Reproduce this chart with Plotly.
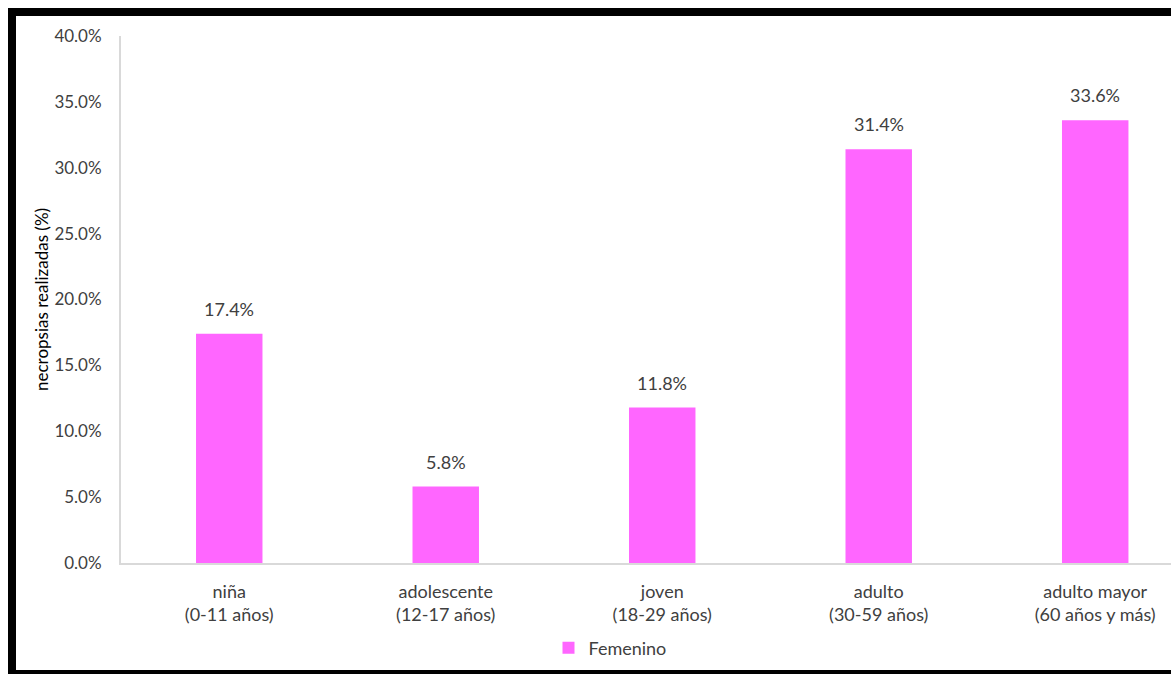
import plotly.graph_objects as go

categories = ["niña<br>(0-11 años)", "adolescente<br>(12-17 años)", "joven<br>(18-29 años)",
              "adulto<br>(30-59 años)", "adulto mayor<br>(60 años y más)"]
values = [17.4, 5.8, 11.8, 31.4, 33.6]
series_name = "Femenino"
y_ticks = [0, 5, 10, 15, 20, 25, 30, 35, 40]
y_ticktext = [f"{v:.1f}%" for v in y_ticks]

FONT = "Lato"
PINK = "#FF66FF"
TXT = "#404040"

W, H = 1171, 674
ml, mr, mt, mb = 121, 0, 36, 674 - 563
pw, ph = W - ml - mr, H - mt - mb


def px(X):
    return (X - ml) / pw


def py(Y):
    return (H - mb - Y) / ph


fig = go.Figure()
fig.add_trace(go.Bar(
    x=list(range(len(categories))), y=values, name=series_name,
    marker=dict(color=PINK, line=dict(width=0)), width=0.307, showlegend=True,
))

for i, v in enumerate(values):
    fig.add_annotation(x=i, y=v, text=f"{v:.1f}%", showarrow=False,
                       yanchor="bottom", yshift=12,
                       font=dict(family=FONT, size=18, color=TXT))

# outer black frame (left, top, bottom; right edge is cropped off)
frame = dict(type="line", xref="paper", yref="paper",
             line=dict(color="black", width=8), layer="above")
fig.add_shape(**frame, x0=px(12), x1=px(12), y0=py(8), y1=py(680))
fig.add_shape(**frame, x0=px(8), x1=px(1180), y0=py(12), y1=py(12))
fig.add_shape(**frame, x0=px(8), x1=px(1180), y0=py(674), y1=py(674))

fig.update_layout(
    width=W, height=H,
    margin=dict(l=ml, r=mr, t=mt, b=mb),
    paper_bgcolor="white", plot_bgcolor="white",
    font=dict(family=FONT, color=TXT),
    xaxis=dict(
        range=[-0.5, 4.35], tickvals=list(range(len(categories))), ticktext=categories,
        showline=True, linecolor="#d9d9d9", linewidth=2, showgrid=False, zeroline=False,
        ticks="outside", ticklen=11, tickcolor="rgba(0,0,0,0)",
        tickfont=dict(family=FONT, size=18, color=TXT), fixedrange=True,
    ),
    yaxis=dict(
        range=[0, 40], tickvals=y_ticks, ticktext=y_ticktext,
        showline=True, linecolor="#d9d9d9", linewidth=2, showgrid=False, zeroline=False,
        ticks="outside", ticklen=14, tickcolor="rgba(0,0,0,0)",
        tickfont=dict(family=FONT, size=17, color=TXT),
        title=dict(text="necropsias realizadas (%)", standoff=1,
                   font=dict(family=FONT, size=17, color="#000000")),
    ),
    legend=dict(orientation="h", x=px(610), xanchor="center", y=py(648), yanchor="middle",
                font=dict(family=FONT, size=18, color=TXT), itemwidth=30,
                bgcolor="rgba(0,0,0,0)"),
)

fig.write_html(
    "out.html",
    config={"displayModeBar": False, "staticPlot": True},
    post_script="document.body.style.margin='0';document.body.style.overflow='hidden';",
)
